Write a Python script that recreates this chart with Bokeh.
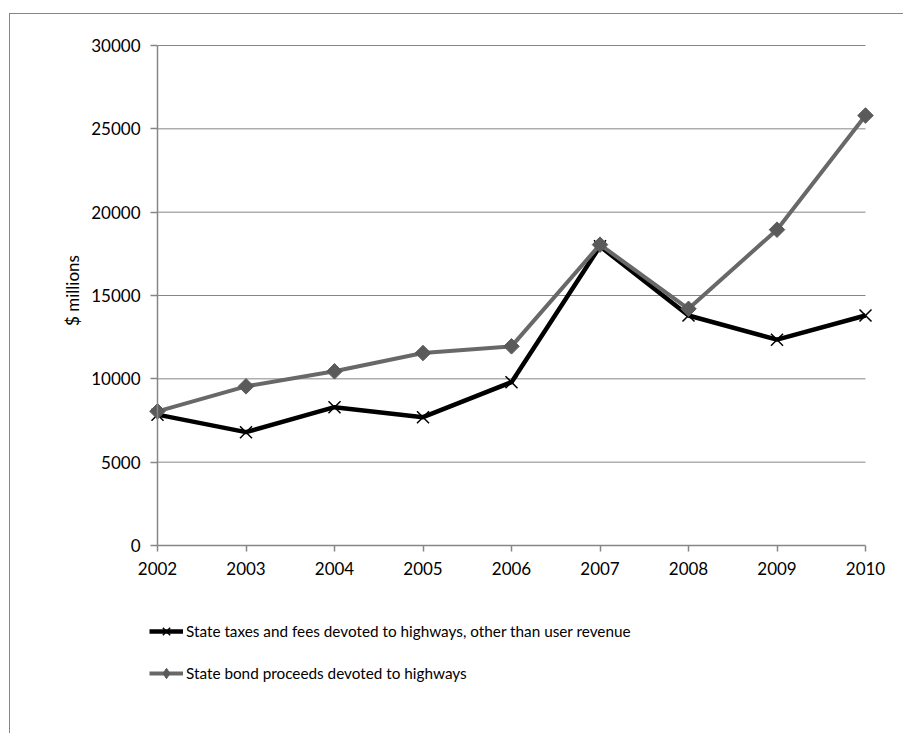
import numpy as np
from bokeh.plotting import figure
from bokeh.models import (ColumnDataSource, Range1d, FixedTicker, Legend, LegendItem,
                          LinearAxis, Label)
from bokeh.embed import file_html
from bokeh.resources import INLINE

# Highway funding from state general sources, $ millions
years = [2002, 2003, 2004, 2005, 2006, 2007, 2008, 2009, 2010]
taxes_fees = [7850, 6800, 8300, 7700, 9800, 17950, 13800, 12350, 13800]
bond_proceeds = [8050, 9550, 10450, 11550, 11950, 18050, 14200, 18950, 25800]
y_ticks = [0, 5000, 10000, 15000, 20000, 25000, 30000]

series_names = [
    "State taxes and fees devoted to highways, other than user revenue",
    "State bond proceeds devoted to highways",
]

FONT = "Lato"
AXIS_GRAY = "#868686"
BOND_LINE = "#686868"
BOND_MARK = "#5a5a5a"

# The frame fills the whole chart area; axes sit at fixed data locations inside it.
W, H = 894, 720            # chart area inside its border
PLOT_L, PLOT_T = 147, 31   # where the first year / top value fall in the area
PLOT_W, PLOT_H = 708, 500  # extent of the plotted span
kx = (years[-1] - years[0]) / PLOT_W
ky = (y_ticks[-1] - y_ticks[0]) / PLOT_H
x_range = Range1d(years[0] - PLOT_L * kx, years[0] + (W - PLOT_L) * kx)
y_range = Range1d(y_ticks[0] - (H - PLOT_T - PLOT_H) * ky, y_ticks[-1] + PLOT_T * ky)

src = ColumnDataSource(dict(year=years, taxes=taxes_fees, bonds=bond_proceeds))

p = figure(
    width=W, height=H,
    min_border=0,
    x_range=x_range, y_range=y_range,
    x_axis_location=None, y_axis_location=None,
    output_backend="svg", toolbar_location=None,
    background_fill_color="white", border_fill_color="white",
    margin=(13, 0, 0, 9),
    styles={"border-left": "1px solid #868686", "border-top": "1px solid #868686"},
)
p.outline_line_color = None
p.grid.grid_line_color = None

# horizontal gridlines across the category span
grid_y = y_ticks[1:]
p.segment(x0=[years[0]] * len(grid_y), x1=[years[-1]] * len(grid_y),
          y0=grid_y, y1=grid_y, line_color=AXIS_GRAY, line_width=1)

# axes
xaxis = LinearAxis(fixed_location=y_ticks[0], bounds=(years[0], years[-1]),
                   ticker=FixedTicker(ticks=years))
yaxis = LinearAxis(fixed_location=years[0], bounds=(y_ticks[0], y_ticks[-1]),
                   ticker=FixedTicker(ticks=y_ticks))
for ax in (xaxis, yaxis):
    ax.axis_line_color = AXIS_GRAY
    ax.axis_line_width = 1.5
    ax.major_tick_line_color = AXIS_GRAY
    ax.major_tick_line_width = 1.5
    ax.major_tick_in = 0
    ax.minor_tick_line_color = None
    ax.major_label_text_font = FONT
    ax.major_label_text_font_size = "17px"
    ax.major_label_text_color = "black"
xaxis.major_tick_out = 6
xaxis.major_label_standoff = 10
yaxis.major_tick_out = 7
yaxis.major_label_standoff = 10
p.add_layout(xaxis, "below")
p.add_layout(yaxis, "left")

p.add_layout(Label(x=62, y=444, x_units="screen", y_units="screen",
                   text="$ millions", angle=np.pi / 2,
                   text_align="center", text_baseline="middle",
                   text_font=FONT, text_font_size="17px", text_color="black"))

# series
l1 = p.line("year", "taxes", source=src, line_color="black", line_width=4.5)
m1 = p.scatter("year", "taxes", source=src, marker="x", size=17,
               line_color="black", line_width=1.5)
l2 = p.line("year", "bonds", source=src, line_color=BOND_LINE, line_width=4)
m2 = p.scatter("year", "bonds", source=src, marker="square", angle=np.pi / 4,
               size=11, fill_color=BOND_MARK, line_color=BOND_MARK, line_width=1)
# diamond key for the legend (legend keys ignore marker rotation); hidden in the plot
key2 = p.scatter("year", "bonds", source=src, marker="diamond", size=12,
                 fill_color=BOND_MARK, line_color=BOND_MARK, visible=False)

legend = Legend(
    items=[LegendItem(label=series_names[0], renderers=[l1, m1]),
           LegendItem(label=series_names[1], renderers=[l2, key2])],
    location=(139, 48),
    orientation="vertical",
    padding=0, margin=0, spacing=16,
    glyph_width=34, glyph_height=26, label_height=26,
    label_standoff=3,
    label_text_font=FONT, label_text_font_size="15.3px", label_text_color="black",
    border_line_color=None, background_fill_alpha=0,
)
p.add_layout(legend, "center")

open("out.html", "w").write(file_html(p, INLINE))
